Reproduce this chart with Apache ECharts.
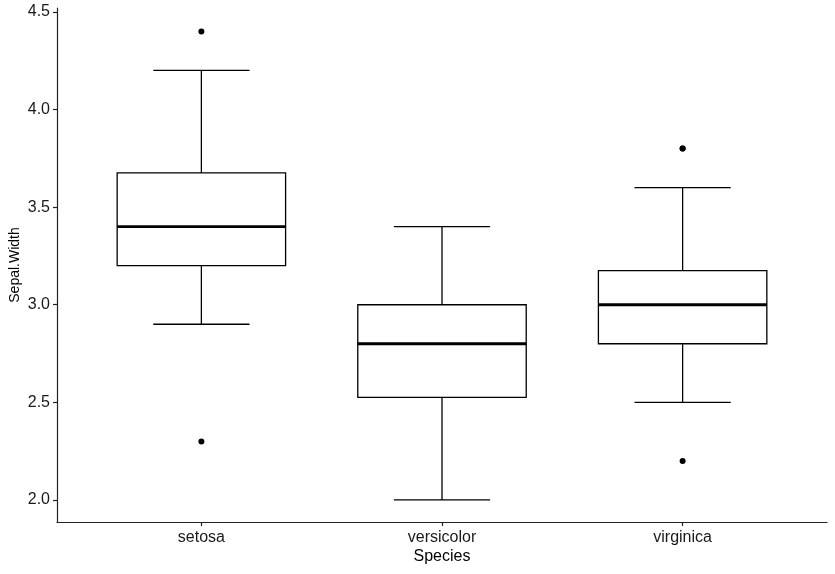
<!DOCTYPE html>
<html>
<head>
<meta charset="utf-8">
<script src="https://cdn.jsdelivr.net/npm/echarts@6/dist/echarts.min.js"></script>
<style>
  html, body { margin: 0; padding: 0; background: #fff; }
  #main { width: 835px; height: 574px; }
</style>
</head>
<body>
<div id="main"></div>
<script>
// iris Sepal.Width by species
const species = ['setosa', 'versicolor', 'virginica'];
// [lower whisker, Q1, median, Q3, upper whisker]
const boxStats = [
    [2.9, 3.2, 3.4, 3.675, 4.2],
    [2.0, 2.525, 2.8, 3.0, 3.4],
    [2.5, 2.8, 3.0, 3.175, 3.6]
];
// [species index (1-based), value]
const outliers = [
    [1, 4.4], [1, 2.3],
    [3, 3.8], [3, 3.8], [3, 2.2]
];
const yTicks = [2.0, 2.5, 3.0, 3.5, 4.0, 4.5];

const boxData = boxStats.map((s, i) => [i + 1].concat(s));

const myChart = echarts.init(document.getElementById('main'));
myChart.setOption({
    animation: false,
    backgroundColor: '#fff',
    grid: {left: 57, right: 8, top: 8, bottom: 52, outerBoundsMode: 'none'},
    xAxis: {
        type: 'value',
        min: 0.4,
        max: 3.6,
        name: 'Species',
        nameLocation: 'middle',
        nameGap: 27,
        nameMoveOverlap: false,
        nameTextStyle: {color: '#000', fontSize: 16, fontFamily: 'Liberation Sans'},
        splitLine: {show: false},
        axisLine: {lineStyle: {color: '#222', width: 1.2}},
        axisTick: {
            customValues: [1, 2, 3],
            length: 4,
            lineStyle: {color: '#222', width: 1.2}
        },
        axisLabel: {
            customValues: [1, 2, 3],
            formatter: v => species[Math.round(v) - 1],
            color: '#1a1a1a',
            fontSize: 16,
            margin: 8,
            fontFamily: 'Liberation Sans'
        }
    },
    yAxis: {
        type: 'value',
        min: 1.887,
        max: 4.52,
        name: 'Sepal.Width',
        nameLocation: 'middle',
        nameGap: 35,
        nameRotate: 90,
        nameMoveOverlap: false,
        nameTextStyle: {color: '#000', fontSize: 14, fontFamily: 'Liberation Sans'},
        splitLine: {show: false},
        axisLine: {show: true, lineStyle: {color: '#222', width: 1.2}},
        axisTick: {
            show: true,
            customValues: yTicks,
            length: 4,
            lineStyle: {color: '#222', width: 1.2}
        },
        axisLabel: {
            customValues: yTicks,
            formatter: v => v.toFixed(1),
            color: '#1a1a1a',
            fontSize: 16,
            margin: 7,
            fontFamily: 'Liberation Sans'
        }
    },
    series: [
        {
            type: 'custom',
            data: boxData,
            encode: {x: 0, y: [1, 2, 3, 4, 5]},
            renderItem: function (params, api) {
                const x = api.value(0);
                const boxW = api.size([0.7, 0])[0];
                const capW = api.size([0.4, 0])[0];
                const lo = api.coord([x, api.value(1)]);
                const q1 = api.coord([x, api.value(2)]);
                const med = api.coord([x, api.value(3)]);
                const q3 = api.coord([x, api.value(4)]);
                const hi = api.coord([x, api.value(5)]);
                const cx = lo[0];
                const line = {stroke: '#000', lineWidth: 1.3};
                return {
                    type: 'group',
                    children: [
                        {type: 'line', shape: {x1: cx, y1: hi[1], x2: cx, y2: q3[1]}, style: line},
                        {type: 'line', shape: {x1: cx, y1: q1[1], x2: cx, y2: lo[1]}, style: line},
                        {type: 'line', shape: {x1: cx - capW / 2, y1: hi[1], x2: cx + capW / 2, y2: hi[1]}, style: line},
                        {type: 'line', shape: {x1: cx - capW / 2, y1: lo[1], x2: cx + capW / 2, y2: lo[1]}, style: line},
                        {
                            type: 'rect',
                            shape: {x: cx - boxW / 2, y: q3[1], width: boxW, height: q1[1] - q3[1]},
                            style: {fill: '#fff', stroke: '#000', lineWidth: 1.3}
                        },
                        {
                            type: 'line',
                            shape: {x1: cx - boxW / 2, y1: med[1], x2: cx + boxW / 2, y2: med[1]},
                            style: {stroke: '#000', lineWidth: 2.8}
                        }
                    ]
                };
            }
        },
        {
            type: 'scatter',
            data: outliers,
            symbolSize: 6,
            itemStyle: {color: '#000', opacity: 1}
        }
    ]
});
</script>
</body>
</html>
